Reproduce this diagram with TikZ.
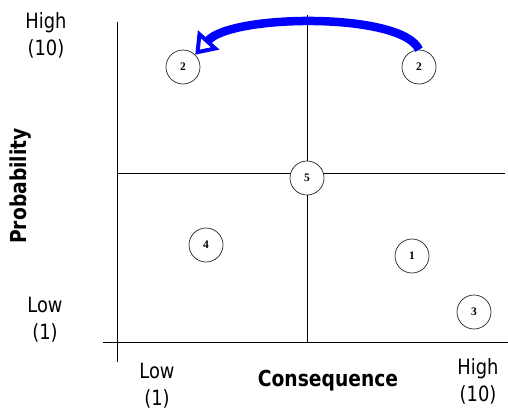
\documentclass[tikz,border=0pt]{standalone}
\usepackage{fontspec}
\setmainfont{DejaVu Sans}[FakeStretch=0.85]
\newfontfamily\numfont{Liberation Serif}
\usetikzlibrary{arrows.meta}
\begin{document}
\begin{tikzpicture}[x=1pt,y=-1pt,
  axisline/.style={draw=black,line width=1pt},
  riskcircle/.style={circle,draw=black!85,line width=0.7pt,fill=white,minimum size=34pt,inner sep=0pt,font=\numfont\bfseries\fontsize{11.5}{11.5}\selectfont},
  lbl/.style={align=center,font=\fontsize{21}{27}\selectfont,inner sep=0pt},
  bold/.style={font=\bfseries\fontsize{22}{26}\selectfont,inner sep=0pt},
  movearrow/.style={draw=blue,line width=8.5pt,-{Triangle[open,length=20pt,width=28pt,line width=4pt]}}
]
\useasboundingbox (0,0) rectangle (508,412);
% grid lines
\draw[axisline] (117,22) -- (117,362);
\draw[axisline] (103,342) -- (508,342);
\draw[axisline] (307,15) -- (307,342);
\draw[axisline] (117,173) -- (505,173);
% labels
\node[lbl] (tl) at (46,35) {High\\(10)};
\node[lbl] (ll) at (45,320) {Low\\(1)};
\node[lbl] (bl) at (157,386) {Low\\(1)};
\node[lbl] (br) at (478,381) {High\\(10)};
\node[bold] (cons) at (328,381) {Consequence};
\node[bold,rotate=90] (prob) at (21,186) {Probability};
% risks
\node[riskcircle] (c2a) at (183,67) {2};
\node[riskcircle] (c2b) at (419,67) {2};
\node[riskcircle] (c5) at (307,178) {5};
\node[riskcircle] (c4) at (206,245) {4};
\node[riskcircle] (c1) at (412,256) {1};
\node[riskcircle] (c3) at (474,312) {3};
% movement arrow
\draw[movearrow] (c2b.north) .. controls (402,12) and (232,14) .. (c2a.north east);
\end{tikzpicture}
\end{document}
